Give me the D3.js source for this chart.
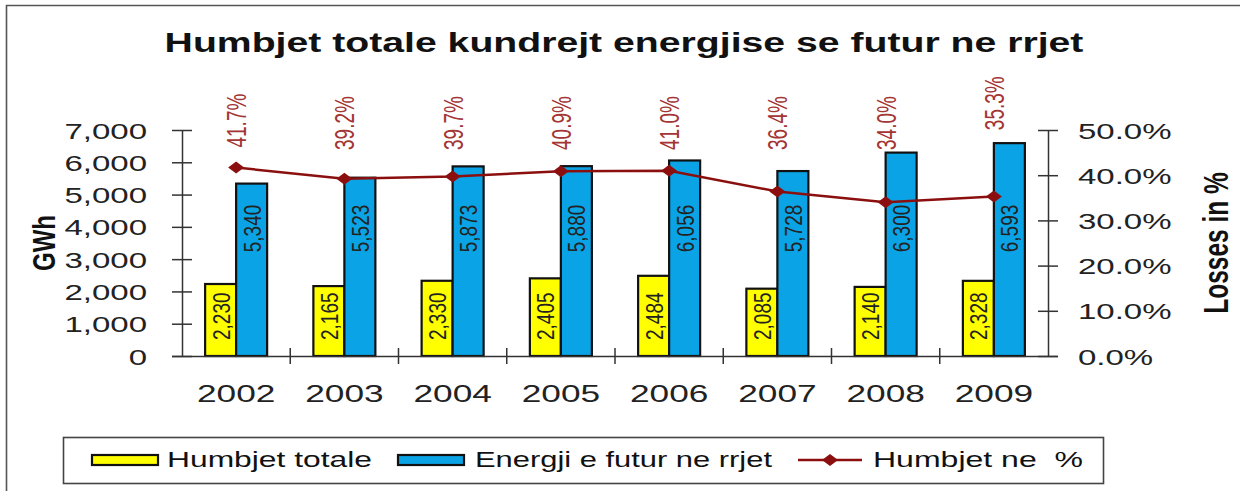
<!DOCTYPE html>
<html>
<head>
<meta charset="utf-8">
<script src="https://cdn.jsdelivr.net/npm/d3@7"></script>
<style>
  html, body { margin: 0; padding: 0; background: #fff; }
  svg { display: block; font-family: "Liberation Sans", Arial, sans-serif; }
  text { white-space: pre; }
</style>
</head>
<body>
<svg id="chart" width="1240" height="491"></svg>
<script>
// ---- data ----
const years = ["2002", "2003", "2004", "2005", "2006", "2007", "2008", "2009"];
const lossesGWh = [2230, 2165, 2330, 2405, 2484, 2085, 2140, 2328];
const energyGWh = [5340, 5523, 5873, 5880, 6056, 5728, 6300, 6593];
const lossesPct = [41.7, 39.2, 39.7, 40.9, 41.0, 36.4, 34.0, 35.3];
const leftTicks = [0, 1000, 2000, 3000, 4000, 5000, 6000, 7000];
const rightTicks = [0, 10, 20, 30, 40, 50];
const seriesNames = ["Humbjet totale", "Energji e futur ne rrjet", "Humbjet ne  %"];
const titleText = "Humbjet totale kundrejt energjise se futur ne rrjet";
const leftTitle = "GWh";
const rightTitle = "Losses in %";

// ---- styles ----
const C_YELLOW = "#FFFF00";
const C_BLUE = "#0AA4E6";
const C_LINE = "#8B0F0F";
const C_PLABEL = "#A33535";
const C_AXIS = "#333";
const SX = 1.5;      // horizontal stretch of horizontal text
const SXB = 1.3;     // stretch for rotated bar labels
const SXP = 1.45;    // stretch for rotated percent labels

const svg = d3.select("#chart");

// outer frame
svg.append("path")
  .attr("d", "M6.5,495 L6.5,5.5 L1245,5.5")
  .attr("fill", "none").attr("stroke", "#555").attr("stroke-width", 1.6);

// scales
const plotL = 182, plotR = 1048, plotT = 130, plotB = 356;
const x = d3.scaleBand().domain(years).range([plotL, plotR]).paddingInner(0).paddingOuter(0);
const sub = d3.scaleBand().domain(["loss", "energy"]).range([0, x.bandwidth()])
  .paddingInner(0).paddingOuter(0.746);
const yL = d3.scaleLinear().domain([0, 7000]).range([plotB, plotT]);
const yR = d3.scaleLinear().domain([0, 50]).range([plotB, plotT]);

// title
svg.append("text")
  .attr("transform", `translate(624,52) scale(1.4,1)`)
  .attr("text-anchor", "middle")
  .attr("font-size", 28).attr("font-weight", "bold").attr("fill", "#111")
  .text(titleText);

// bars
const data = years.map((y, i) => ({ year: y, loss: lossesGWh[i], energy: energyGWh[i], pct: lossesPct[i] }));

const g = svg.append("g");
["loss", "energy"].forEach(key => {
  g.selectAll("rect.b-" + key).data(data).join("rect")
    .attr("class", "b-" + key)
    .attr("x", d => x(d.year) + sub(key))
    .attr("y", d => yL(d[key]))
    .attr("width", sub.bandwidth())
    .attr("height", d => yL(0) - yL(d[key]))
    .attr("fill", key === "loss" ? C_YELLOW : C_BLUE)
    .attr("stroke", "#111").attr("stroke-width", 2.2);
});

// bar value labels (rotated)
const fmt = d3.format(",");
g.selectAll("text.lbl-loss").data(data).join("text")
  .attr("class", "lbl-loss")
  .attr("transform", d => `translate(${x(d.year) + sub("loss") + sub.bandwidth() / 2},${yL(0) - 16}) scale(${SXB},1) rotate(-90)`)
  .attr("dy", "0.36em")
  .attr("text-anchor", "start")
  .attr("font-size", 19).attr("fill", "#222")
  .text(d => fmt(d.loss));

g.selectAll("text.lbl-energy").data(data).join("text")
  .attr("class", "lbl-energy")
  .attr("transform", d => `translate(${x(d.year) + sub("energy") + sub.bandwidth() / 2},${yL(3950)}) scale(${SXB},1) rotate(-90)`)
  .attr("dy", "0.36em")
  .attr("text-anchor", "middle")
  .attr("font-size", 19).attr("fill", "#222")
  .text(d => fmt(d.energy));

// axes
function crossTicks(sel, len) {
  sel.selectAll(".tick line").attr("x1", -len).attr("x2", len).attr("stroke", C_AXIS).attr("stroke-width", 1.5);
  sel.select(".domain").attr("stroke", C_AXIS).attr("stroke-width", 1.5);
}

const axL = svg.append("g").attr("transform", `translate(${plotL},0)`)
  .call(d3.axisLeft(yL).tickValues(leftTicks).tickFormat(d3.format(",")).tickSizeOuter(0));
crossTicks(axL, 10);
axL.selectAll(".tick text")
  .attr("x", null).attr("dy", null)
  .attr("transform", `translate(-35,8) scale(${SX},1)`)
  .attr("text-anchor", "end")
  .attr("font-size", 22).attr("font-family", "Liberation Sans, Arial, sans-serif").attr("fill", "#222");

const axR = svg.append("g").attr("transform", `translate(${plotR},0)`)
  .call(d3.axisRight(yR).tickValues(rightTicks).tickFormat(d => d3.format(".1f")(d) + "%").tickSizeOuter(0));
crossTicks(axR, 10);
axR.selectAll(".tick text")
  .attr("x", null).attr("dy", null)
  .attr("transform", `translate(30,8) scale(${SX},1)`)
  .attr("text-anchor", "start")
  .attr("font-size", 22).attr("font-family", "Liberation Sans, Arial, sans-serif").attr("fill", "#222");

// x axis
const axB = svg.append("g").attr("transform", `translate(0,${plotB})`)
  .call(d3.axisBottom(x).tickSize(0).tickSizeOuter(0));
axB.select(".domain").attr("stroke", C_AXIS).attr("stroke-width", 1.5)
  .attr("d", `M${plotL - 10},0.5H${plotR + 10}`);
axB.selectAll(".tick text")
  .attr("y", null).attr("dy", null)
  .attr("transform", `translate(0,46) scale(${SX},1)`)
  .attr("text-anchor", "middle")
  .attr("font-size", 23.5).attr("font-family", "Liberation Sans, Arial, sans-serif").attr("fill", "#222");
axB.selectAll("line.cat-tick").data(years.slice(1)).join("line")
  .attr("class", "cat-tick")
  .attr("x1", d => x(d)).attr("x2", d => x(d))
  .attr("y1", -8).attr("y2", 8)
  .attr("stroke", C_AXIS).attr("stroke-width", 1.5);

// axis titles
svg.append("text")
  .attr("transform", `translate(44,${(plotT + plotB) / 2}) scale(1.3,1) rotate(-90)`)
  .attr("dy", "0.36em").attr("text-anchor", "middle")
  .attr("font-size", 24).attr("font-weight", "bold").attr("fill", "#111")
  .text(leftTitle);
svg.append("text")
  .attr("transform", `translate(1216,${(plotT + plotB) / 2}) scale(1.4,1) rotate(-90)`)
  .attr("dy", "0.36em").attr("text-anchor", "middle")
  .attr("font-size", 24.5).attr("font-weight", "bold").attr("fill", "#111")
  .text(rightTitle);

// line
const cx = d => x(d.year) + x.bandwidth() / 2;
svg.append("path").datum(data)
  .attr("d", d3.line().x(cx).y(d => yR(d.pct)))
  .attr("fill", "none").attr("stroke", C_LINE).attr("stroke-width", 2.5);

const diamond = "M0,-6L8,0L0,6L-8,0Z";
svg.selectAll("path.mk").data(data).join("path")
  .attr("class", "mk")
  .attr("transform", d => `translate(${cx(d)},${yR(d.pct)})`)
  .attr("d", diamond).attr("fill", C_LINE);

// percent labels
svg.selectAll("text.plbl").data(data).join("text")
  .attr("class", "plbl")
  .attr("transform", d => {
    let b = Math.min(yR(d.pct) - 20, 150);
    if (yL(d.energy) < b) b = yL(d.energy) - 13;
    return `translate(${cx(d)},${b}) scale(${SXP},1) rotate(-90)`;
  })
  .attr("dy", "0.36em").attr("text-anchor", "start")
  .attr("font-size", 19).attr("fill", C_PLABEL)
  .text(d => d3.format(".1f")(d.pct) + "%");

// legend
const lg = svg.append("g");
lg.append("rect").attr("x", 63.5).attr("y", 437.5).attr("width", 1040).attr("height", 46)
  .attr("fill", "#fff").attr("stroke", "#444").attr("stroke-width", 1.6);
const legendItems = [
  { name: seriesNames[0], type: "bar", color: C_YELLOW, sx: 92, tx: 167, tw: 205 },
  { name: seriesNames[1], type: "bar", color: C_BLUE, sx: 398, tx: 475, tw: 297 },
  { name: seriesNames[2], type: "line", color: C_LINE, sx: 798, tx: 873, tw: 210 }
];
legendItems.forEach(it => {
  if (it.type === "bar") {
    lg.append("rect").attr("x", it.sx).attr("y", 455).attr("width", 66).attr("height", 10)
      .attr("fill", it.color).attr("stroke", "#111").attr("stroke-width", 2.2);
  } else {
    lg.append("line").attr("x1", it.sx).attr("x2", it.sx + 64).attr("y1", 460).attr("y2", 460)
      .attr("stroke", it.color).attr("stroke-width", 2.5);
    lg.append("path").attr("transform", `translate(${it.sx + 32},460)`).attr("d", diamond).attr("fill", it.color);
  }
  lg.append("text").attr("x", it.tx).attr("y", 467)
    .attr("font-size", 21.5).attr("fill", "#111")
    .attr("textLength", it.tw).attr("lengthAdjust", "spacingAndGlyphs")
    .text(it.name);
});
</script>
</body>
</html>
